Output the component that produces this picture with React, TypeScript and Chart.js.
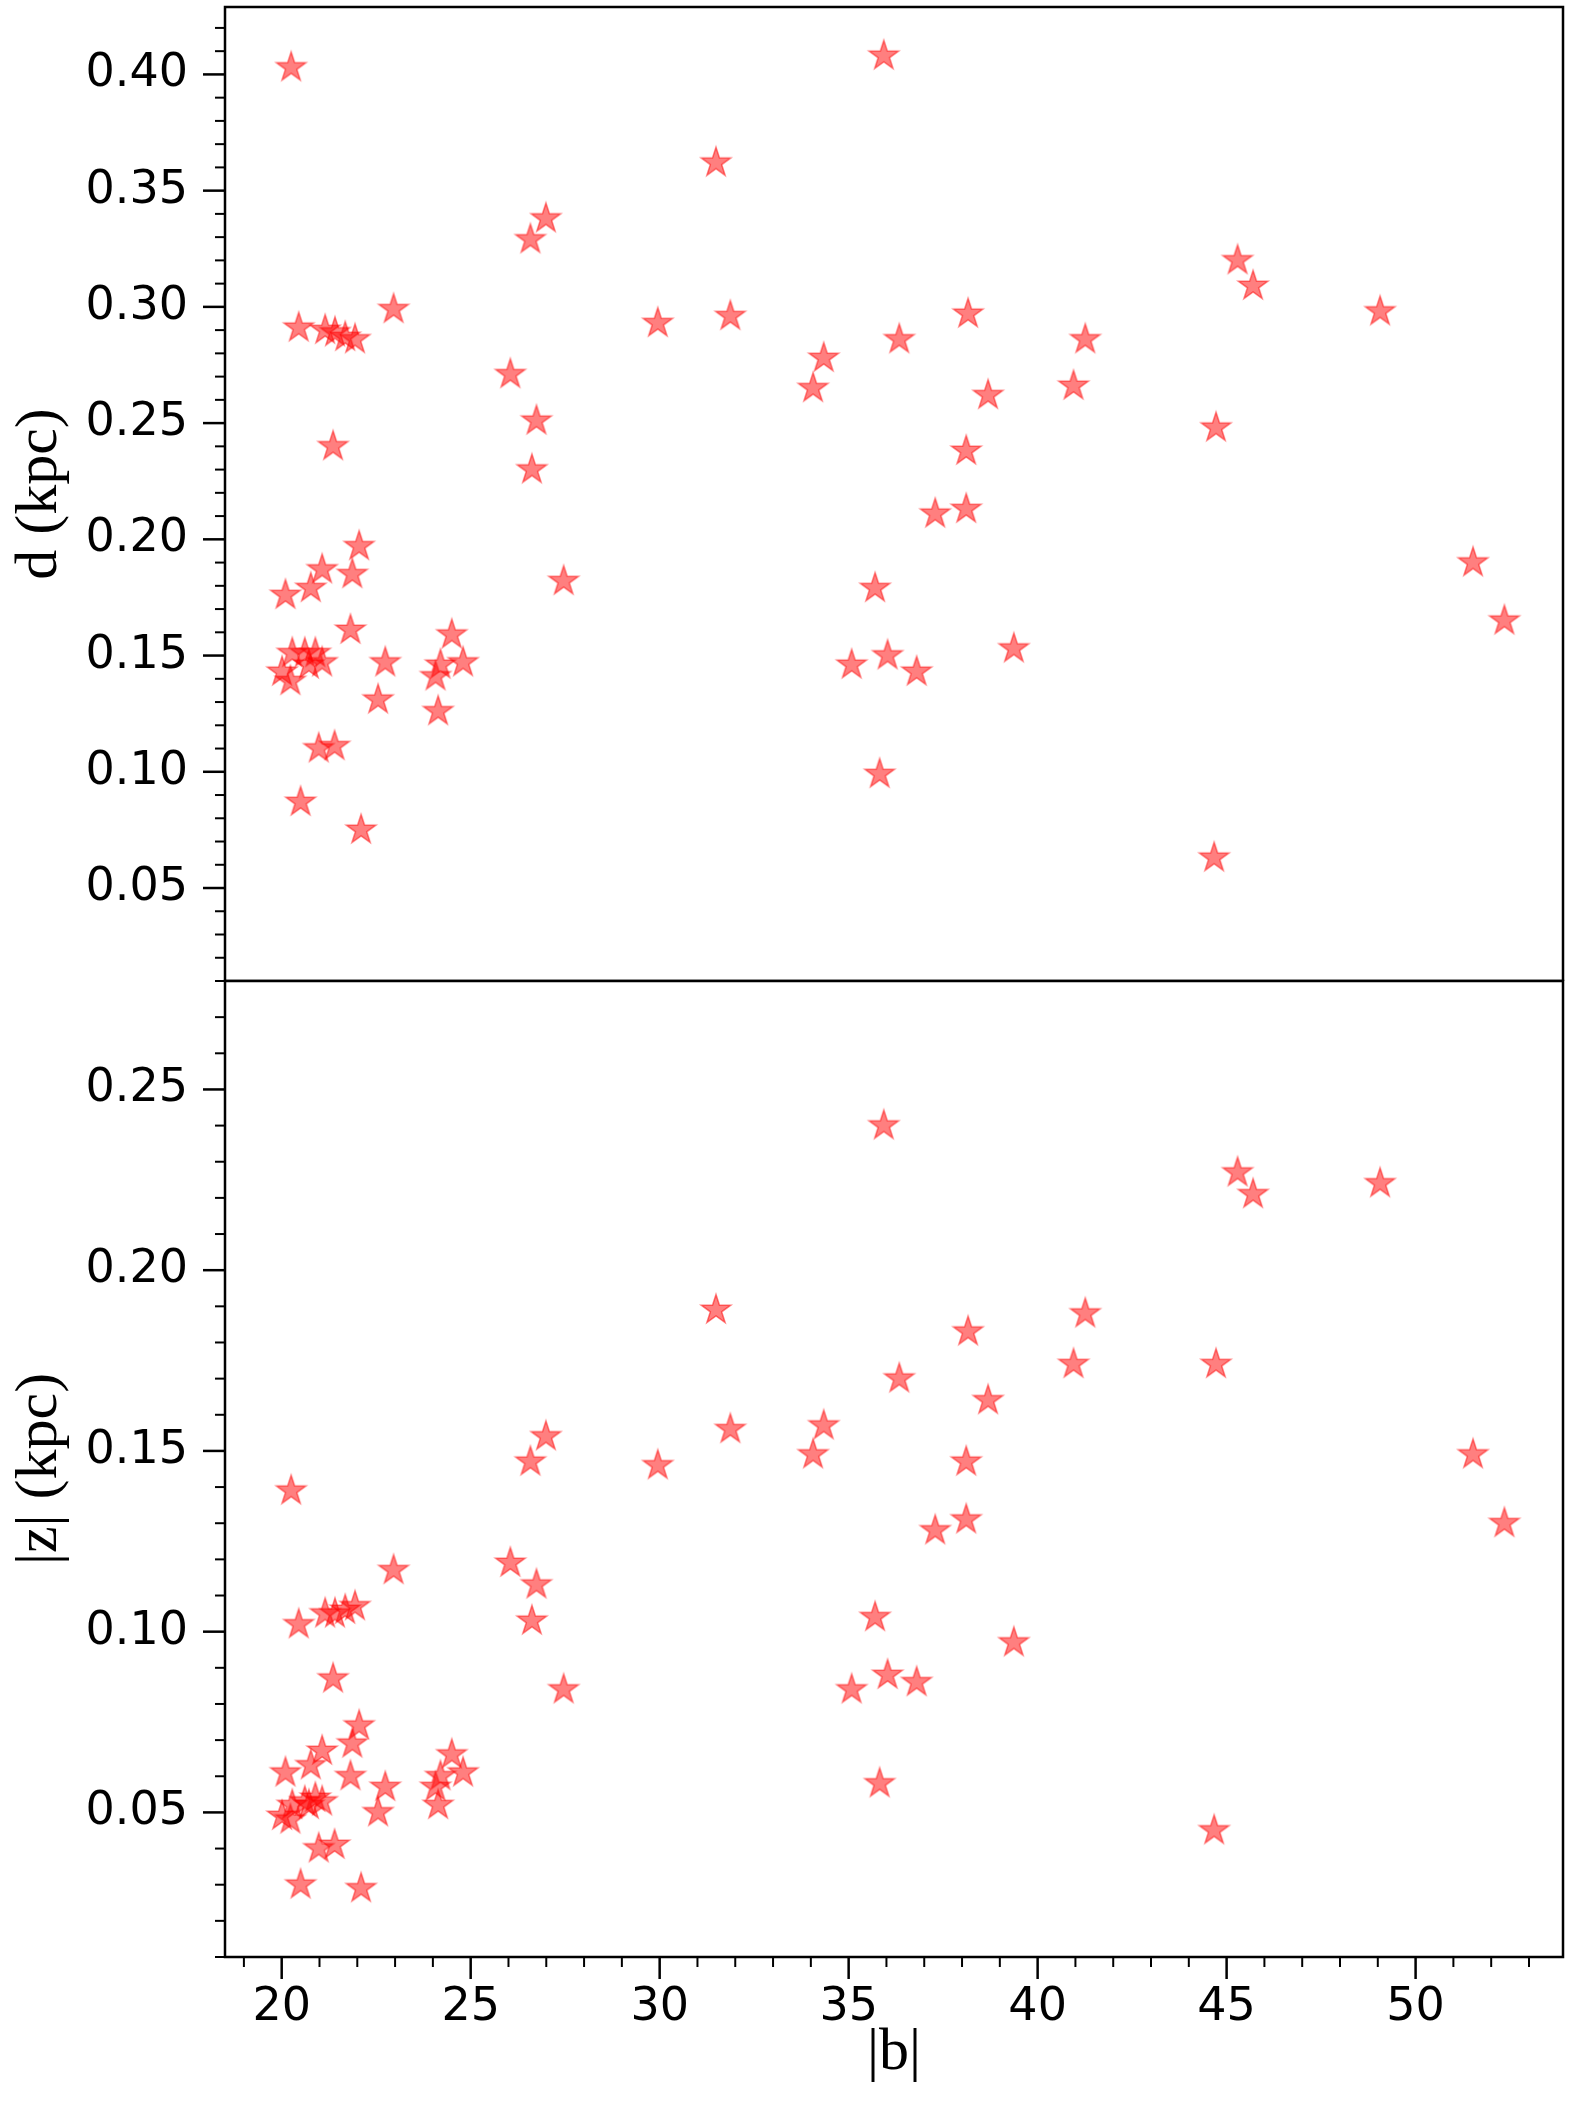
import React, { useEffect, useRef } from 'react';
import { Chart, registerables } from 'chart.js';

Chart.register(...registerables);

// Galactic latitude |b| (deg) of each star
const latitudeB = [
  20.25, 26.58, 26.99, 22.96, 20.45, 26.05, 26.74, 21.36, 26.62,
  22.05, 21.07, 21.87, 20.77, 20.10, 21.82, 24.50, 22.74, 24.80, 24.20, 24.07, 22.55, 24.14, 20.98, 21.40, 20.50, 22.10, 27.46,
  20.28, 20.61, 20.89, 21.07, 20.01, 20.23, 20.72,
  21.15, 21.41, 21.68, 21.94,
  35.93, 31.49, 45.29, 45.70, 49.06, 29.95, 31.87, 38.16, 36.34, 41.26, 34.34, 34.06, 38.69, 40.95, 44.72, 38.11,
  37.29, 38.11, 51.52, 35.70, 52.35, 39.37, 36.03, 35.08, 36.80, 35.82, 44.67,
];

// distance d (kpc)
const distanceD = [
  0.403, 0.329, 0.338, 0.299, 0.291, 0.271, 0.251, 0.240, 0.230,
  0.197, 0.187, 0.185, 0.179, 0.176, 0.161, 0.159, 0.147, 0.147, 0.146, 0.141, 0.131, 0.126, 0.110, 0.111, 0.087, 0.075, 0.182,
  0.151, 0.151, 0.151, 0.147, 0.143, 0.139, 0.146,
  0.290, 0.289, 0.287, 0.286,
  0.408, 0.362, 0.320, 0.309, 0.298, 0.293, 0.296, 0.297, 0.286, 0.286, 0.278, 0.265, 0.262, 0.266, 0.248, 0.238,
  0.211, 0.213, 0.190, 0.179, 0.165, 0.153, 0.150, 0.146, 0.143, 0.099, 0.063,
];

// height above the plane |z| (kpc)
const heightZ = [
  0.139, 0.147, 0.154, 0.117, 0.102, 0.119, 0.113, 0.087, 0.103,
  0.074, 0.067, 0.069, 0.063, 0.061, 0.060, 0.066, 0.057, 0.061, 0.060, 0.057, 0.050, 0.052, 0.040, 0.041, 0.030, 0.029, 0.084,
  0.052, 0.053, 0.054, 0.053, 0.049, 0.048, 0.052,
  0.105, 0.105, 0.106, 0.107,
  0.240, 0.189, 0.227, 0.221, 0.224, 0.146, 0.156, 0.183, 0.170, 0.188, 0.157, 0.149, 0.164, 0.174, 0.174, 0.147,
  0.128, 0.131, 0.149, 0.104, 0.130, 0.097, 0.088, 0.084, 0.086, 0.058, 0.045,
];

const xMajorTicks = [20, 25, 30, 35, 40, 45, 50];
const dMajorTicks = [0.05, 0.10, 0.15, 0.20, 0.25, 0.30, 0.35, 0.40];
const zMajorTicks = [0.05, 0.10, 0.15, 0.20, 0.25];

const X_MIN = 18.5;
const X_MAX = 53.9;
const D_MIN = 0.01;
const D_MAX = 0.429;
const Z_MIN = 0.01;
const Z_MAX = 0.28;

const TICK_FONT = { family: "'DejaVu Sans'", size: 46 };
const TITLE_FONT = { family: "'Liberation Serif'", size: 60 };

function makeStar(R: number, lw: number): HTMLCanvasElement {
  const size = Math.ceil(2 * R + 2 * lw + 4);
  const c = document.createElement('canvas');
  c.width = size;
  c.height = size;
  const ctx = c.getContext('2d')!;
  const cx = size / 2;
  const cy = size / 2;
  const r = R * 0.381966;
  ctx.beginPath();
  for (let i = 0; i < 10; i++) {
    const ang = -Math.PI / 2 + (i * Math.PI) / 5;
    const rad = i % 2 === 0 ? R : r;
    const px = cx + rad * Math.cos(ang);
    const py = cy + rad * Math.sin(ang);
    if (i === 0) ctx.moveTo(px, py);
    else ctx.lineTo(px, py);
  }
  ctx.closePath();
  ctx.fillStyle = 'rgba(255,0,0,0.5)';
  ctx.fill();
  ctx.lineWidth = lw;
  ctx.strokeStyle = 'rgba(255,0,0,0.5)';
  ctx.lineJoin = 'miter';
  ctx.stroke();
  return c;
}

const frameTicksPlugin = {
  id: 'frameTicks',
  afterDraw(chart: any, _args: any, opts: any) {
    const { ctx, chartArea: a } = chart;
    ctx.save();
    ctx.strokeStyle = '#000';
    ctx.lineCap = 'butt';
    const yS = chart.scales.y;
    const ys = 0.01;
    const k0 = Math.ceil(yS.min / ys - 1e-6);
    const k1 = Math.floor(yS.max / ys + 1e-6);
    for (let k = k0; k <= k1; k++) {
      const major = k % 5 === 0;
      const py = yS.getPixelForValue(k * ys);
      ctx.lineWidth = major ? 2.5 : 2;
      ctx.beginPath();
      ctx.moveTo(a.left, py);
      ctx.lineTo(a.left - (major ? 22 : 10), py);
      ctx.stroke();
    }
    if (opts && opts.showX) {
      const xS = chart.scales.x;
      const j0 = Math.ceil(xS.min - 1e-6);
      const j1 = Math.floor(xS.max + 1e-6);
      for (let j = j0; j <= j1; j++) {
        const major = j % 5 === 0;
        const px = xS.getPixelForValue(j);
        ctx.lineWidth = major ? 2.5 : 2;
        ctx.beginPath();
        ctx.moveTo(px, a.bottom);
        ctx.lineTo(px, a.bottom + (major ? 22 : 10));
        ctx.stroke();
      }
    }
    ctx.lineWidth = 2.5;
    ctx.strokeRect(a.left, a.top, a.right - a.left, a.bottom - a.top);
    ctx.restore();
  },
};

function buildPoints(ys: number[]) {
  return latitudeB.map((b, i) => ({ x: b, y: ys[i] }));
}

function zeroPadding(scale: any) {
  scale.paddingTop = 0;
  scale.paddingBottom = 0;
  scale.paddingLeft = 0;
  scale.paddingRight = 0;
}

function makeConfig(
  star: HTMLCanvasElement,
  ys: number[],
  yMin: number,
  yMax: number,
  yMajor: number[],
  yTitle: string,
  showX: boolean,
  padTop: number
): any {
  return {
    type: 'scatter',
    data: {
      datasets: [
        {
          data: buildPoints(ys),
          pointStyle: star,
          pointRadius: 15,
          pointHoverRadius: 15,
          backgroundColor: 'rgba(255,0,0,0.5)',
          borderColor: 'rgba(255,0,0,0.5)',
          clip: false,
        },
      ],
    },
    options: {
      responsive: false,
      animation: false,
      devicePixelRatio: 1,
      layout: { autoPadding: false, padding: { top: padTop, right: 7, left: 0, bottom: 0 } },
      plugins: {
        legend: { display: false },
        tooltip: { enabled: false },
        frameTicks: { showX },
      },
      events: [],
      scales: {
        x: {
          type: 'linear',
          min: X_MIN,
          max: X_MAX,
          display: showX,
          grid: { display: false, drawTicks: false, tickLength: 0 },
          border: { display: false },
          afterBuildTicks: (scale: any) => {
            scale.ticks = xMajorTicks.map((v) => ({ value: v }));
          },
          afterFit: (scale: any) => {
            zeroPadding(scale);
            if (showX) scale.height = 157;
          },
          ticks: {
            autoSkip: false,
            maxRotation: 0,
            minRotation: 0,
            padding: 23,
            color: '#000',
            font: TICK_FONT,
            callback: (v: any) => String(v),
          },
          title: {
            display: showX,
            text: '|b|',
            color: '#000',
            font: TITLE_FONT,
            padding: { top: 0, bottom: 25 },
          },
        },
        y: {
          type: 'linear',
          min: yMin,
          max: yMax,
          grid: { display: false, drawTicks: false, tickLength: 0 },
          border: { display: false },
          afterBuildTicks: (scale: any) => {
            scale.ticks = yMajor.map((v) => ({ value: v }));
          },
          afterFit: (scale: any) => {
            zeroPadding(scale);
            scale.width = 225;
          },
          ticks: {
            autoSkip: false,
            padding: 37,
            color: '#000',
            font: TICK_FONT,
            callback: (v: any) => Number(v).toFixed(2),
          },
          title: {
            display: true,
            text: yTitle,
            color: '#000',
            font: TITLE_FONT,
            padding: { top: 4, bottom: 0 },
          },
        },
      },
    },
    plugins: [frameTicksPlugin],
  };
}

export default function App() {
  const topRef = useRef<HTMLCanvasElement>(null);
  const botRef = useRef<HTMLCanvasElement>(null);

  useEffect(() => {
    const star = makeStar(15.5, 1.5);
    const top = new Chart(
      topRef.current!,
      makeConfig(star, distanceD, D_MIN, D_MAX, dMajorTicks, 'd (kpc)', false, 7)
    );
    const bot = new Chart(
      botRef.current!,
      makeConfig(star, heightZ, Z_MIN, Z_MAX, zMajorTicks, '|z| (kpc)', true, 10)
    );
    return () => {
      top.destroy();
      bot.destroy();
    };
  }, []);

  return (
    <div>
      <canvas
        ref={topRef}
        width={1570}
        height={981}
        style={{ position: 'absolute', left: 0, top: 0, width: 1570, height: 981 }}
      />
      <canvas
        ref={botRef}
        width={1570}
        height={1143}
        style={{ position: 'absolute', left: 0, top: 971, width: 1570, height: 1143 }}
      />
    </div>
  );
}
